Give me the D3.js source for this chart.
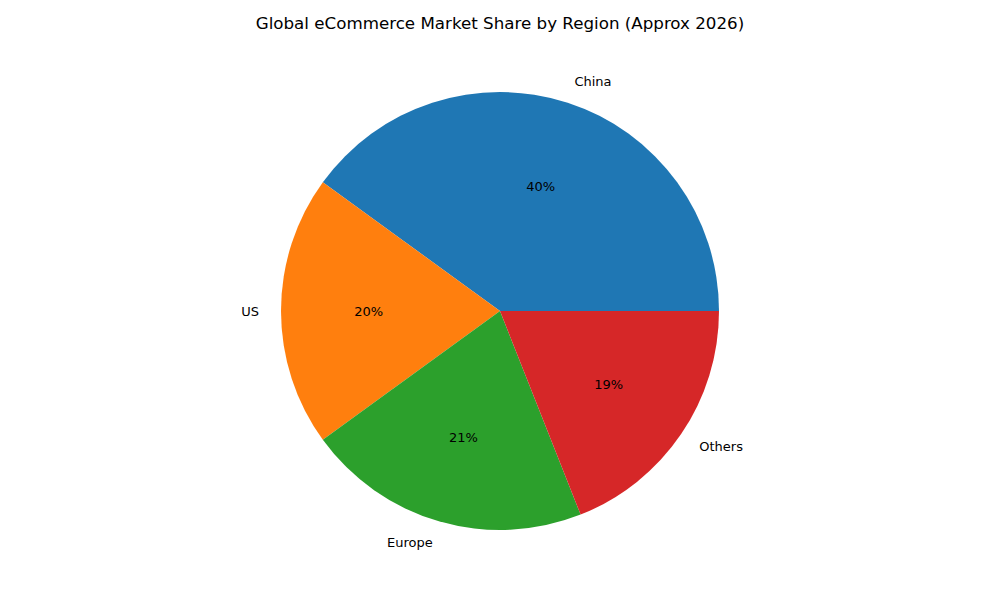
<!DOCTYPE html>
<html><head><meta charset="utf-8">
<script src="https://cdn.jsdelivr.net/npm/d3@7"></script>
<style>body{margin:0;background:#fff}text{font-family:"DejaVu Sans",sans-serif}</style>
</head><body>
<svg id="chart" width="1000" height="600"></svg>
<script>
var regions = ["China","US","Europe","Others"];
var shares = [40,20,21,19];
var colors = ["#1f77b4","#ff7f0e","#2ca02c","#d62728"];

var svg = d3.select("#chart");
var cx = 500, cy = 311, r = 219;

svg.append("text").attr("x",500).attr("y",29).attr("text-anchor","middle")
	.style("font-size","16.7px").text("Global eCommerce Market Share by Region (Approx 2026)");

// matplotlib style: start at 3 o'clock, counter-clockwise
var pie = d3.pie().sort(null).startAngle(Math.PI/2).endAngle(Math.PI/2 - 2*Math.PI);
var arcs = pie(shares);
var arc = d3.arc().innerRadius(0).outerRadius(r);

var g = svg.append("g").attr("transform","translate("+cx+","+cy+")");
g.selectAll("path").data(arcs).enter().append("path")
	.attr("d",arc).attr("fill",function(d,i){return colors[i];});

function pos(d,k){
	var a = (d.startAngle+d.endAngle)/2;
	return [Math.sin(a)*r*k, -Math.cos(a)*r*k];
}
g.selectAll("text.lbl").data(arcs).enter().append("text").attr("class","lbl")
	.attr("x",function(d){return pos(d,1.1)[0];})
	.attr("y",function(d){return pos(d,1.1)[1];})
	.attr("dy","0.35em")
	.attr("text-anchor",function(d){return pos(d,1.1)[0]>0?"start":"end";})
	.style("font-size","13px")
	.text(function(d,i){return regions[i];});
g.selectAll("text.pct").data(arcs).enter().append("text").attr("class","pct")
	.attr("x",function(d){return pos(d,0.6)[0];})
	.attr("y",function(d){return pos(d,0.6)[1];})
	.attr("dy","0.35em").attr("text-anchor","middle")
	.style("font-size","13px")
	.text(function(d){return d.data+"%";});
</script>
</body></html>
